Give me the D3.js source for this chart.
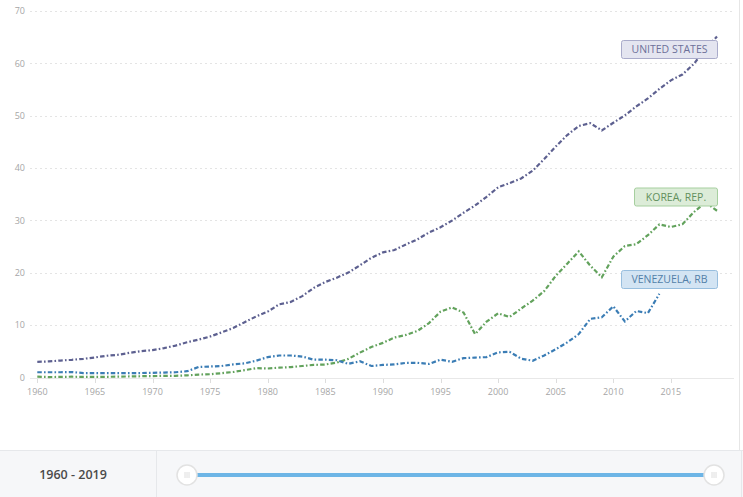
<!DOCTYPE html>
<html>
<head>
<meta charset="utf-8">
<script src="https://cdn.jsdelivr.net/npm/d3@7"></script>
<style>
  html, body { margin: 0; padding: 0; background: #fff; }
  svg { display: block; font-family: "Open Sans", "Noto Sans", sans-serif; }
</style>
</head>
<body>
<svg id="chart" width="743" height="497"></svg>
<script>
const years = d3.range(1960, 2020);
const yTicks = [0, 10, 20, 30, 40, 50, 60, 70];
const xTicks = [1960, 1965, 1970, 1975, 1980, 1985, 1990, 1995, 2000, 2005, 2010, 2015];
const seriesNames = ["UNITED STATES", "KOREA, REP.", "VENEZUELA, RB"];
const rangeLabel = "1960 - 2019";

const usValues = [3.0, 3.07, 3.24, 3.38, 3.57, 3.83, 4.15, 4.34, 4.70, 5.03,
  5.23, 5.61, 6.09, 6.73, 7.24, 7.82, 8.61, 9.45, 10.56, 11.67,
  12.58, 13.98, 14.43, 15.54, 17.12, 18.24, 19.07, 20.04, 21.42, 22.86,
  23.89, 24.34, 25.42, 26.39, 27.69, 28.69, 29.97, 31.46, 32.85, 34.51,
  36.33, 37.13, 38.02, 39.49, 41.72, 44.11, 46.30, 48.05, 48.57, 47.19,
  48.65, 50.07, 51.78, 53.29, 55.12, 56.76, 57.87, 59.91, 62.81, 65.12];

const koreaValues = [0.16, 0.09, 0.11, 0.15, 0.12, 0.11, 0.13, 0.16, 0.20, 0.24,
  0.28, 0.30, 0.32, 0.41, 0.56, 0.62, 0.83, 1.05, 1.40, 1.78,
  1.72, 1.88, 1.99, 2.20, 2.41, 2.48, 2.84, 3.56, 4.75, 5.82,
  6.61, 7.64, 8.13, 8.89, 10.39, 12.57, 13.40, 12.40, 8.28, 10.67,
  12.26, 11.56, 13.17, 14.67, 16.50, 19.40, 21.74, 24.09, 21.35, 19.14,
  23.09, 25.10, 25.47, 27.18, 29.25, 28.74, 29.28, 31.60, 33.45, 31.85];

const venezuelaValues = [1.0, 1.0, 1.0, 1.05, 0.85, 0.85, 0.85, 0.85, 0.85, 0.85,
  0.9, 0.95, 1.0, 1.2, 2.0, 2.1, 2.2, 2.5, 2.7, 3.2,
  3.9, 4.2, 4.2, 4.0, 3.4, 3.4, 3.3, 2.6, 3.1, 2.2,
  2.4, 2.5, 2.8, 2.8, 2.6, 3.4, 3.0, 3.7, 3.8, 3.9,
  4.8, 4.9, 3.6, 3.2, 4.2, 5.4, 6.7, 8.3, 11.2, 11.5,
  13.6, 10.7, 12.7, 12.3, 16.0, null, null, null, null, null];

const seriesColors = ["#5d6090", "#62a25c", "#3b7db5"];
const labelFills = ["#e4e5f0", "#dcecd8", "#d3e4f3"];
const labelStrokes = ["#a9abca", "#a6cf9f", "#98bede"];
const labelText = ["#6d7099", "#62905d", "#527fa8"];

const svg = d3.select("#chart");
const x = d3.scaleLinear().domain([1960, 2019]).range([37.3, 717]);
const y = d3.scaleLinear().domain([0, 70]).range([377.5, 11]);

// right border
svg.append("line").attr("x1", 739.5).attr("x2", 739.5).attr("y1", 0).attr("y2", 451)
  .attr("stroke", "#e6e6e6").attr("stroke-width", 1);

// gridlines
svg.append("g").selectAll("line").data(yTicks.filter(d => d > 0)).join("line")
  .attr("x1", 30).attr("x2", 734)
  .attr("y1", d => Math.round(y(d)) + 0.5).attr("y2", d => Math.round(y(d)) + 0.5)
  .attr("stroke", "#e4e4e4").attr("stroke-dasharray", "2,3");

// baseline
svg.append("line").attr("x1", 30).attr("x2", 734)
  .attr("y1", Math.round(y(0)) + 0.5).attr("y2", Math.round(y(0)) + 0.5)
  .attr("stroke", "#e8e8e8");

// y labels
svg.append("g").selectAll("text").data(yTicks).join("text")
  .attr("x", 25).attr("y", d => y(d)).attr("dy", "0.35em")
  .attr("text-anchor", "end").attr("font-size", 9).attr("fill", "#a6a6a6")
  .text(d => d);

// x axis ticks and labels
const xg = svg.append("g");
xg.selectAll("line").data(xTicks).join("line")
  .attr("x1", d => Math.round(x(d)) + 0.5).attr("x2", d => Math.round(x(d)) + 0.5)
  .attr("y1", 379).attr("y2", 383).attr("stroke", "#dddddd");
xg.selectAll("text").data(xTicks).join("text")
  .attr("x", d => x(d)).attr("y", 395).attr("text-anchor", "middle")
  .attr("font-size", 9).attr("fill", "#a6a6a6").text(d => d);

// lines
const allSeries = [usValues, koreaValues, venezuelaValues];
const line = d3.line().defined(d => d.v !== null).x(d => x(d.year)).y(d => y(d.v));
allSeries.forEach((vals, i) => {
  const data = years.map((yr, j) => ({ year: yr, v: vals[j] }));
  svg.append("path").datum(data)
    .attr("d", line).attr("fill", "none")
    .attr("stroke", seriesColors[i]).attr("stroke-width", 2.2)
    .attr("stroke-dasharray", "4.5,2.2,1.6,2.2");
});

// series labels
const labelBoxes = [
  { x0: 621, x1: 717, yc: 49.5 },
  { x0: 634, x1: 717, yc: 197 },
  { x0: 621, x1: 717, yc: 279.5 }
];
labelBoxes.forEach((b, i) => {
  svg.append("rect").attr("x", b.x0 + 0.5).attr("y", b.yc - 9).attr("width", b.x1 - b.x0)
    .attr("height", 18).attr("rx", 2).attr("fill", labelFills[i])
    .attr("stroke", labelStrokes[i]).attr("stroke-width", 1);
  svg.append("text").attr("x", (b.x0 + b.x1) / 2 + 0.5).attr("y", b.yc).attr("dy", "0.35em")
    .attr("text-anchor", "middle").attr("font-size", 10.5).attr("fill", labelText[i])
    .text(seriesNames[i]);
});

// bottom panel
svg.append("rect").attr("x", 0).attr("y", 451).attr("width", 743).attr("height", 46)
  .attr("fill", "#f6f7f9");
svg.append("line").attr("x1", 0).attr("x2", 743).attr("y1", 450.5).attr("y2", 450.5)
  .attr("stroke", "#e6e8eb");
svg.append("line").attr("x1", 156.5).attr("x2", 156.5).attr("y1", 451).attr("y2", 497)
  .attr("stroke", "#e6e8eb");
svg.append("line").attr("x1", 741.5).attr("x2", 741.5).attr("y1", 451).attr("y2", 497)
  .attr("stroke", "#e6e8eb");
svg.append("text").attr("x", 73).attr("y", 475).attr("dy", "0.35em")
  .attr("text-anchor", "middle").attr("font-size", 12.5).attr("font-weight", 600)
  .attr("fill", "#4a4a4a").text(rangeLabel);

const sx = d3.scaleLinear().domain([1960, 2019]).range([187, 714]);
svg.append("line").attr("x1", sx(1960)).attr("x2", sx(2019)).attr("y1", 475).attr("y2", 475)
  .attr("stroke", "#6db5e6").attr("stroke-width", 4);
[1960, 2019].forEach(yr => {
  const g = svg.append("g").attr("transform", `translate(${sx(yr)},475)`);
  g.append("circle").attr("r", 10).attr("fill", "#ffffff").attr("stroke", "#e2e2e2").attr("stroke-width", 1.5);
  [-2, 0, 2].forEach(dx => g.append("line").attr("x1", dx).attr("x2", dx).attr("y1", -3).attr("y2", 3)
    .attr("stroke", "#d6d6d6").attr("stroke-width", 0.8));
});
</script>
</body>
</html>
